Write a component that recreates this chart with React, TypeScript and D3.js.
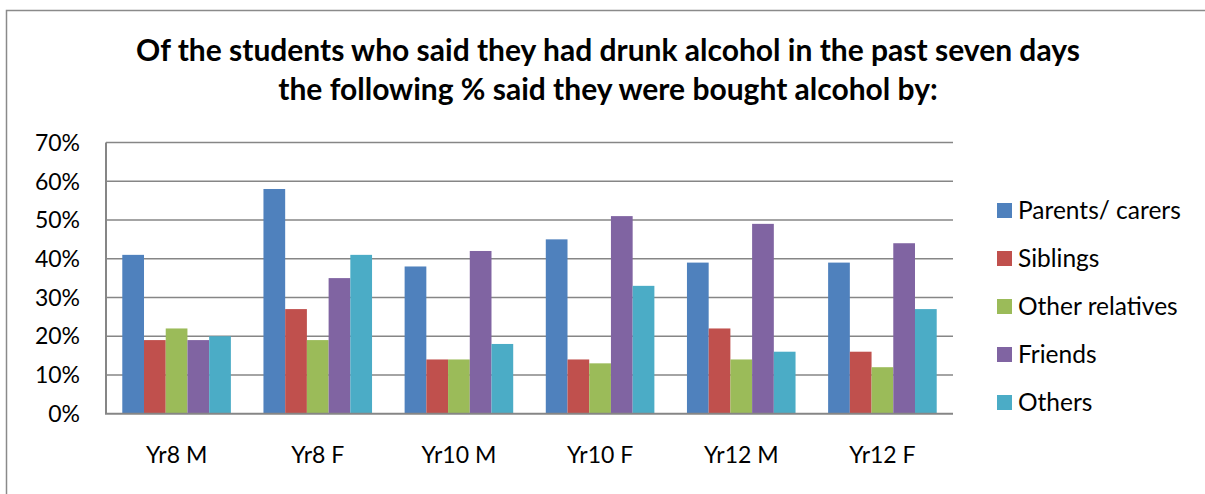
import React, { useRef, useEffect } from 'react';
import * as d3 from 'd3';

const categories = ['Yr8 M', 'Yr8 F', 'Yr10 M', 'Yr10 F', 'Yr12 M', 'Yr12 F'];
const seriesNames = ['Parents/ carers', 'Siblings', 'Other relatives', 'Friends', 'Others'];
const parents = [41, 58, 38, 45, 39, 39];
const siblings = [19, 27, 14, 14, 22, 16];
const otherRelatives = [22, 19, 14, 13, 14, 12];
const friends = [19, 35, 42, 51, 49, 44];
const others = [20, 41, 18, 33, 16, 27];
const yTicks = [0, 10, 20, 30, 40, 50, 60, 70];
const colors = ['#4F81BD', '#C0504D', '#9BBB59', '#8064A2', '#4BACC6'];
const titleLines = [
    'Of the students who said they had drunk alcohol in the past seven days',
    'the following % said they were bought alcohol by:',
];

export default function App() {
    const svgRef = useRef<SVGSVGElement | null>(null);

    useEffect(() => {
        const width = 1205;
        const height = 494;
        const plot = { left: 106, right: 953, top: 142.5, bottom: 413.7 };
        const font = 'Lato, "Open Sans", sans-serif';
        const series = [parents, siblings, otherRelatives, friends, others];

        d3.select(svgRef.current).selectAll('*').remove();

        const svg = d3
            .select(svgRef.current)
            .attr('width', width)
            .attr('height', height);

        svg.append('rect')
            .attr('x', 0)
            .attr('y', 0)
            .attr('width', width)
            .attr('height', height)
            .attr('fill', 'white');

        // outer chart border (runs off the right and bottom edges)
        svg.append('rect')
            .attr('x', 6.5)
            .attr('y', 10.5)
            .attr('width', 1400)
            .attr('height', 700)
            .attr('fill', 'none')
            .attr('stroke', '#8a8a8a')
            .attr('stroke-width', 1.5);

        const xScale = d3
            .scaleBand()
            .domain(categories)
            .range([plot.left, plot.right])
            .padding(0);

        const cw = xScale.bandwidth();
        const bw = cw / (seriesNames.length + 1.5);

        const inner = d3
            .scaleBand()
            .domain(seriesNames)
            .range([0.75 * bw, cw - 0.75 * bw])
            .padding(0);

        const yScale = d3
            .scaleLinear()
            .domain([0, 70])
            .range([plot.bottom, plot.top]);

        // gridlines
        yTicks.forEach((t) => {
            if (t === 0) return;
            svg.append('line')
                .attr('x1', plot.left)
                .attr('x2', plot.right)
                .attr('y1', yScale(t))
                .attr('y2', yScale(t))
                .attr('stroke', '#868686')
                .attr('stroke-width', 1.5);
        });

        // bars
        categories.forEach((c, i) => {
            series.forEach((s, j) => {
                svg.append('rect')
                    .attr('x', xScale(c)! + inner(seriesNames[j])!)
                    .attr('y', yScale(s[i]))
                    .attr('width', inner.bandwidth())
                    .attr('height', yScale(0) - yScale(s[i]))
                    .attr('fill', colors[j]);
            });
        });

        // axes
        svg.append('line')
            .attr('x1', plot.left)
            .attr('x2', plot.left)
            .attr('y1', plot.top)
            .attr('y2', plot.bottom)
            .attr('stroke', '#868686')
            .attr('stroke-width', 2);

        svg.append('line')
            .attr('x1', plot.left - 1)
            .attr('x2', plot.right)
            .attr('y1', plot.bottom)
            .attr('y2', plot.bottom)
            .attr('stroke', '#868686')
            .attr('stroke-width', 2);

        yTicks.forEach((t) => {
            svg.append('text')
                .attr('x', 80)
                .attr('y', yScale(t))
                .attr('dy', '0.36em')
                .attr('text-anchor', 'end')
                .text(t + '%')
                .attr('fill', 'black')
                .attr('font-family', font)
                .attr('font-size', 23);
        });

        categories.forEach((c) => {
            svg.append('text')
                .attr('x', xScale(c)! + cw / 2)
                .attr('y', 463)
                .attr('text-anchor', 'middle')
                .text(c)
                .attr('fill', 'black')
                .attr('font-family', font)
                .attr('font-size', 23);
        });

        // legend
        seriesNames.forEach((name, j) => {
            const y = 210.5 + j * 48;
            svg.append('rect')
                .attr('x', 997)
                .attr('y', y - 7.5)
                .attr('width', 15)
                .attr('height', 15)
                .attr('fill', colors[j]);
            svg.append('text')
                .attr('x', 1018)
                .attr('y', y)
                .attr('dy', '0.36em')
                .text(name)
                .attr('fill', 'black')
                .attr('font-family', font)
                .attr('font-size', 24.5);
        });

        // title
        titleLines.forEach((line, k) => {
            svg.append('text')
                .attr('x', 608)
                .attr('y', 61 + k * 39)
                .attr('text-anchor', 'middle')
                .text(line)
                .attr('fill', 'black')
                .attr('font-family', font)
                .attr('font-weight', 'bold')
                .attr('font-size', 30);
        });
    }, []);

    return (
        <svg
            ref={svgRef}
            style={{ position: 'absolute', left: 0, top: 0, display: 'block' }}
        ></svg>
    );
}
